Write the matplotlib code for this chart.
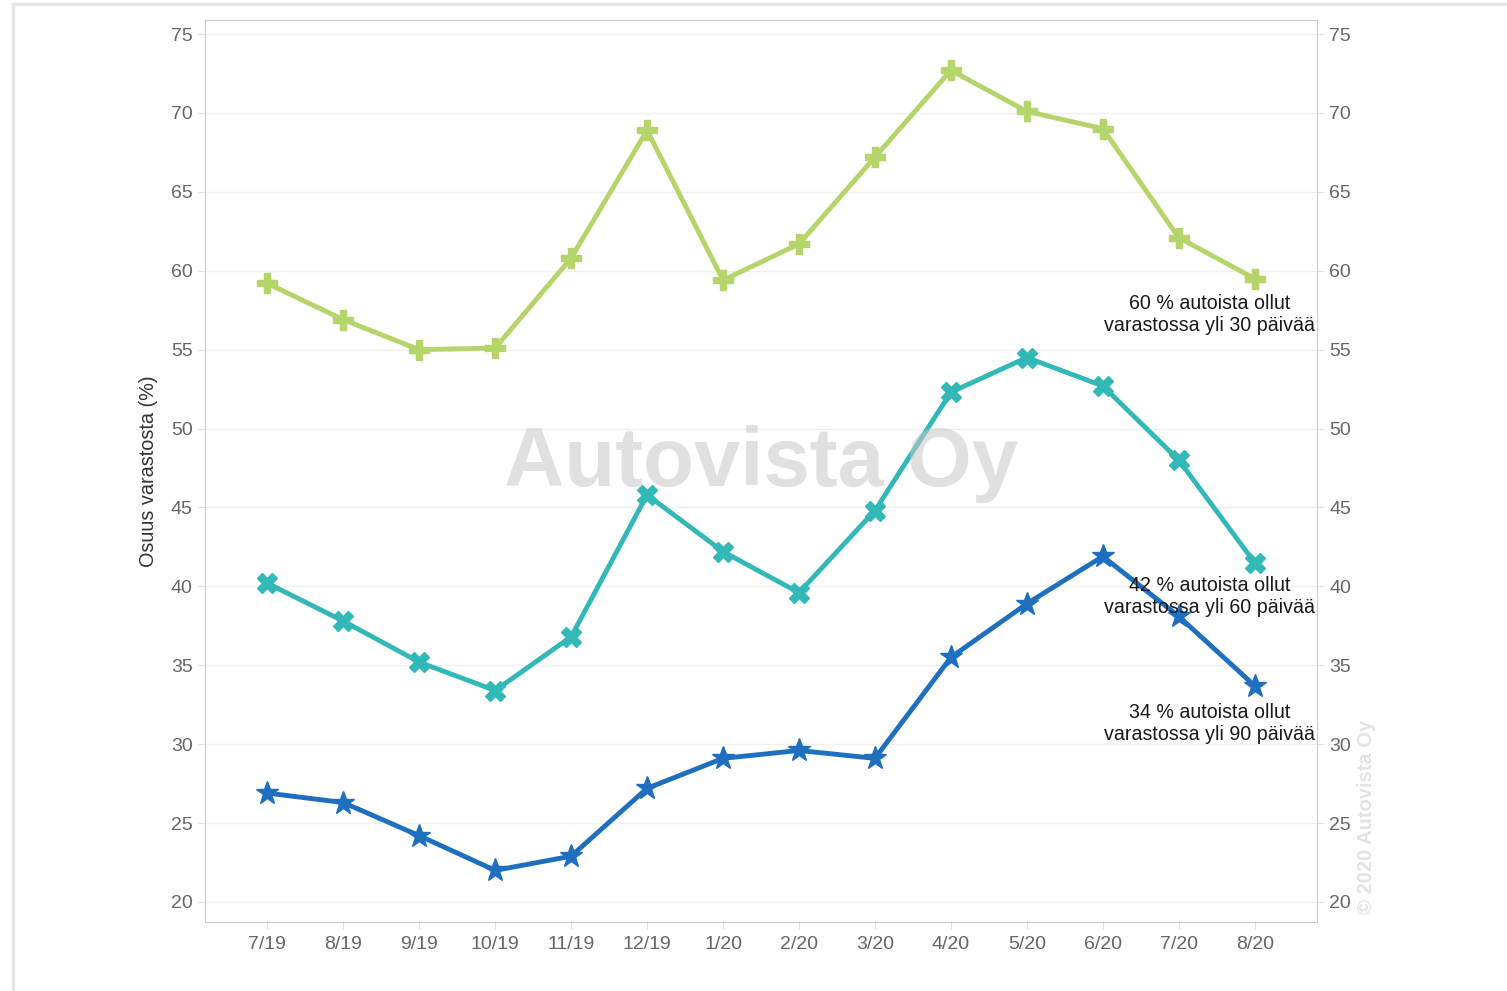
import matplotlib.pyplot as plt
from matplotlib.lines import Line2D

kuukaudet = ['7/19', '8/19', '9/19', '10/19', '11/19', '12/19', '1/20',
             '2/20', '3/20', '4/20', '5/20', '6/20', '7/20', '8/20']
yli30 = [59.2, 56.9, 55.0, 55.1, 60.8, 68.9, 59.4, 61.7, 67.2, 72.7, 70.1, 69.0, 62.1, 59.5]
yli60 = [40.2, 37.8, 35.2, 33.4, 36.8, 45.8, 42.2, 39.6, 44.8, 52.3, 54.5, 52.7, 48.0, 41.5]
yli90 = [26.9, 26.3, 24.2, 22.0, 22.9, 27.2, 29.1, 29.6, 29.1, 35.5, 38.9, 41.9, 38.1, 33.7]
yticks = [20, 25, 30, 35, 40, 45, 50, 55, 60, 65, 70, 75]
tekstit = ['60 % autoista ollut\nvarastossa yli 30 päivää',
           '42 % autoista ollut\nvarastossa yli 60 päivää',
           '34 % autoista ollut\nvarastossa yli 90 päivää']
tekstit_y = [57.2, 39.35, 31.3]

plt.rcParams['font.family'] = ['Liberation Sans', 'DejaVu Sans']

fig = plt.figure(figsize=(15.07, 9.91), dpi=100)
ax = fig.add_axes([205 / 1507, 1 - 922 / 991, (1317 - 205) / 1507, (922 - 20) / 991])

# kehys kuvan ympärillä
fig.add_artist(Line2D([13 / 1507, 13 / 1507], [0, 1 - 4 / 991], transform=fig.transFigure,
                      color='#e6e6e6', lw=2.5))
fig.add_artist(Line2D([13 / 1507, 1], [1 - 4 / 991, 1 - 4 / 991], transform=fig.transFigure,
                      color='#e6e6e6', lw=2.5))

x = range(len(kuukaudet))
ax.plot(x, yli30, color='#b5d46a', lw=3.5, marker='P', ms=14, zorder=3)
ax.plot(x, yli60, color='#33b8b8', lw=3.5, marker='X', ms=14, zorder=3)
ax.plot(x, yli90, color='#1f6fbf', lw=3.5, marker='*', ms=17, zorder=3)

ax.set_xlim(-0.82, 13.82)
ax.set_ylim(18.73, 75.89)
ax.set_xticks(list(x))
ax.set_xticklabels(kuukaudet)
ax.set_yticks(yticks)
ax.tick_params(axis='both', colors='#e0e0e0', labelcolor='#666666', labelsize=14, length=5)
ax.tick_params(axis='y', pad=4)
ax.tick_params(axis='x', pad=5)
ax.tick_params(axis='y', right=True, labelright=True)
ax.grid(axis='y', color='#f0f0f0', lw=1)
ax.set_axisbelow(True)
for s in ax.spines.values():
    s.set_color('#cccccc')
ax.set_ylabel('Osuus varastosta (%)', fontsize=14.3, color='#333333', labelpad=9)

for t, yy in zip(tekstit, tekstit_y):
    ax.text(13.8, yy, t, ha='right', va='center', multialignment='center',
            fontsize=14.1, color='#1a1a1a', linespacing=1.2, zorder=4)

ax.text(0.5, 0.508, 'Autovista Oy', transform=ax.transAxes, ha='center', va='center',
        fontsize=60, fontweight='bold', color='#c8c8c8', alpha=0.55, zorder=5)
fig.text(1367 / 1507, 1 - 817 / 991, '© 2020 Autovista Oy', rotation=90, ha='center', va='center',
         fontsize=14.5, fontweight='bold', color='#e3e3e3')

fig.savefig('out.png', dpi=100)
